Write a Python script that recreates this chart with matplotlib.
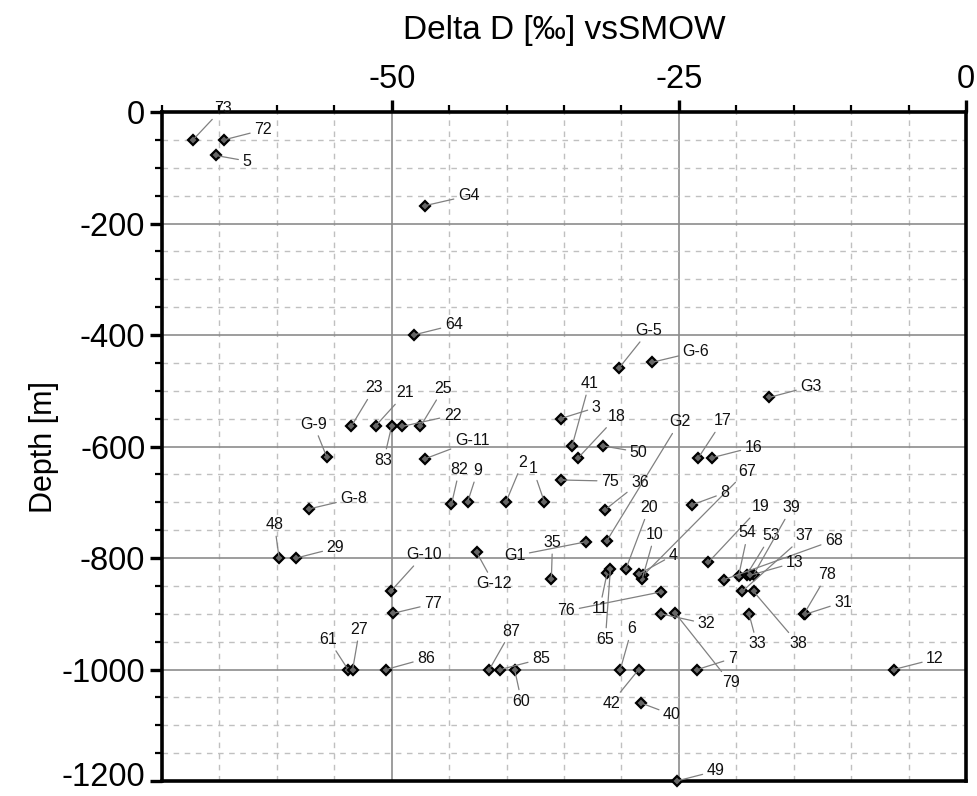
import matplotlib
matplotlib.use("Agg")
import matplotlib.pyplot as plt
from matplotlib.ticker import MultipleLocator
from matplotlib.transforms import ScaledTranslation

plt.rcParams['font.family'] = ['Liberation Sans', 'DejaVu Sans']
plt.rcParams['axes.unicode_minus'] = False

# ---- data ----
labels = ["73", "72", "5", "G4", "64", "G-5", "G-6", "G3", "23", "21", "83", "22", "25",
          "G-9", "G-11", "41", "3", "18", "50", "G2", "17", "16", "67", "82", "9", "2", "1",
          "75", "36", "8", "G-8", "48", "29", "G-10", "G1", "35", "G-12", "20", "10", "4",
          "19", "54", "53", "39", "37", "68", "13", "78", "31", "77", "76", "11", "65", "32",
          "33", "38", "61", "27", "86", "87", "85", "60", "6", "42", "7", "79", "12", "40", "49"]
delta_d = [-67.3, -64.6, -65.3, -47.1, -48.1, -30.2, -27.35, -17.15, -53.5, -51.4, -50.0, -49.1, -47.5,
           -55.65, -47.1, -34.3, -35.3, -33.75, -31.6, -31.3, -23.3, -22.1, -28.1, -44.8, -43.4, -40.06, -36.7,
           -35.3, -31.4, -23.9, -57.2, -59.8, -58.3, -50.1, -33.1, -36.1, -42.6, -29.6, -28.2, -28.5,
           -22.45, -19.8, -19.1, -18.5, -19.5, -21.1, -18.8, -14.1, -14.0, -49.85, -26.6, -31.25, -30.96, -26.6,
           -18.9, -18.5, -53.8, -53.4, -50.5, -41.5, -40.55, -39.3, -30.1, -28.5, -23.4, -25.35, -6.3, -28.3, -25.2]
depth = [-50, -50, -78, -168, -400, -459, -449, -512, -563, -563, -563, -564, -564,
         -619, -622, -599, -550, -620, -599, -770, -620, -620, -831, -704, -700, -700, -700,
         -660, -713, -705, -712, -800, -800, -860, -771, -837, -790, -819, -838, -829,
         -808, -832, -830, -830, -860, -839, -831, -900, -901, -899, -861, -827, -819, -900,
         -900, -860, -1000, -1000, -1000, -1000, -1000, -1000, -1000, -1000, -1000, -898, -1000, -1060, -1200]
# label anchor positions (data coordinates of the label centres)
label_x = [-64.7, -61.2, -62.6, -43.3, -44.6, -27.6, -23.5, -13.5, -51.5, -48.8, -50.7, -44.7, -45.5,
           -56.8, -43.0, -32.8, -32.2, -30.4, -28.5, -24.95, -21.2, -18.5, -19.1, -44.1, -42.5, -38.6, -37.7,
           -31.0, -28.4, -21.0, -53.3, -60.2, -54.9, -47.2, -39.3, -36.0, -41.1, -27.6, -27.1, -25.5,
           -17.9, -19.0, -17.0, -15.2, -14.05, -11.5, -14.9, -12.1, -10.7, -46.4, -34.8, -31.9, -31.4, -22.6,
           -18.2, -14.6, -55.5, -52.8, -47.0, -39.6, -37.0, -38.7, -29.1, -30.9, -20.35, -20.5, -2.7, -25.6, -21.8]
label_y = [7, -32, -88, -150, -382, -392, -430, -492, -495, -504, -625, -544, -496,
           -560, -590, -487, -530, -546, -610, -556, -554, -601, -644, -641, -643, -628, -640,
           -662, -664, -683, -693, -740, -782, -794, -796, -772, -846, -710, -758, -795,
           -708, -755, -760, -710, -760, -768, -808, -830, -879, -882, -895, -891, -946, -918,
           -954, -954, -946, -928, -980, -931, -981, -1057, -927, -1061, -980, -1024, -981, -1081, -1182]

x_ticks = [-50, -25, 0]
y_ticks = [0, -200, -400, -600, -800, -1000, -1200]

fig = plt.figure(figsize=(9.78, 7.96), dpi=100)
ax = fig.add_axes([0.1656, 0.0188, 0.8222, 0.8405])

ax.set_xlim(-70, 0)
ax.set_ylim(-1200, 0)

ax.xaxis.set_minor_locator(MultipleLocator(5))
ax.yaxis.set_minor_locator(MultipleLocator(50))
ax.set_xticks(x_ticks)
ax.set_yticks(y_ticks)

ax.xaxis.tick_top()
ax.xaxis.set_label_position('top')

ax.grid(which='minor', color='#c0c0c0', linestyle=(0, (4, 4)), linewidth=1.0)
ax.grid(which='major', color='#8c8c8c', linestyle='-', linewidth=1.2)
ax.set_axisbelow(True)

for s in ax.spines.values():
    s.set_linewidth(2.6)
    s.set_color('black')

ax.tick_params(which='major', direction='out', length=9, width=2.4, labelsize=23.5, pad=3)
ax.tick_params(which='minor', direction='out', length=5, width=1.6)
ax.tick_params(axis='x', which='both', top=True, bottom=False)

ax.set_xlabel("Delta D [‰] vsSMOW", fontsize=24, labelpad=18)
ax.set_ylabel("Depth [m]", fontsize=22, labelpad=2)

ax.plot(delta_d, depth, linestyle='none', marker='D', markersize=5,
        markerfacecolor='#666666', markeredgecolor='black', markeredgewidth=1.6,
        clip_on=False, zorder=5)

for lab, x, y, tx, ty in zip(labels, delta_d, depth, label_x, label_y):
    ax.annotate(lab, xy=(x, y), xytext=(tx, ty), textcoords='data',
                ha='center', va='center', fontsize=11.5, color='#111111',
                annotation_clip=False,
                arrowprops=dict(arrowstyle='-', color='#808080', lw=0.9,
                                shrinkA=1, shrinkB=2),
                zorder=6)

# nudge the lowest tick label up so it stays inside the picture
low = ax.yaxis.get_major_ticks()[-1].label1
low.set_transform(low.get_transform() + ScaledTranslation(0, 5 / 72, fig.dpi_scale_trans))

fig.savefig("out.png", dpi=100)
